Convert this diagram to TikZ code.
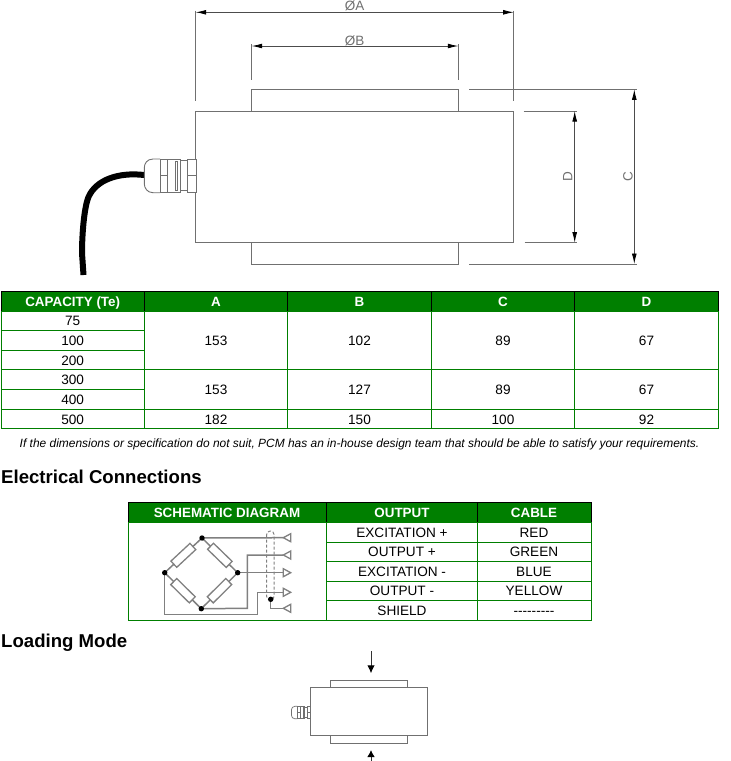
\documentclass[tikz,border=0pt]{standalone}
\usepackage{fontspec}
\setmainfont{Liberation Sans}
\usetikzlibrary{arrows.meta}
\definecolor{pcmgreen}{HTML}{007F00}
\definecolor{drawgray}{HTML}{707070}
\definecolor{wiregray}{HTML}{808080}
\tikzset{
  part/.style={draw=drawgray,line width=0.9pt},
  extline/.style={draw=drawgray,line width=0.9pt},
  dimline/.style={draw=black!70,line width=0.8pt,{Latex[length=10.5pt,width=4.8pt,black]}-{Latex[length=10.5pt,width=4.8pt,black]}},
  dimtext/.style={text=drawgray,font=\fontsize{13.5}{14}\selectfont,inner sep=0pt},
  head/.style={text=white,font=\bfseries\fontsize{13.4}{14}\selectfont,inner sep=0pt,text height=9.6pt,text depth=0pt},
  cell/.style={text=black,font=\fontsize{13.6}{14}\selectfont,inner sep=0pt,text height=9.7pt,text depth=0pt},
  headfill/.style={fill=pcmgreen,draw=black,line width=1pt},
  grid/.style={draw=pcmgreen,line width=1pt},
  title/.style={anchor=west,font=\bfseries\fontsize{18.6}{20}\selectfont,inner sep=0pt,text height=13.3pt,text depth=0pt},
  note/.style={font=\itshape\fontsize{11.95}{13}\selectfont,inner sep=0pt},
  wire/.style={draw=wiregray,line width=1.5pt},
  res/.style={draw=wiregray,fill=white,line width=1.3pt,rectangle,minimum width=26pt,minimum height=8.5pt,inner sep=0pt},
  pin/.style={circle,fill=black,minimum size=5.4pt,inner sep=0pt},
  termbox/.style={draw=wiregray,fill=white,line width=1.3pt},
  gland/.pic={
    \draw[pic actions] (-36,-16.7) -- (-43,-16.7) .. controls (-49,-16.7) and (-51.7,-12) .. (-51.7,-8) -- (-51.7,8) .. controls (-51.7,12) and (-49,17) .. (-43,17) -- (-36,17);
    \draw[pic actions] (-36,-16.7) rectangle (-28.3,17);
    \draw[pic actions] (-36,0) -- (-28.3,0);
    \draw[pic actions] (-28.3,-16.7) rectangle (-16,17);
    \draw[pic actions] (-21,-14) rectangle (-18.3,15);
    \draw[pic actions] (-16,-15) rectangle (-8.3,14.3);
    \draw[pic actions] (-8.3,-16.7) rectangle (0,17);
    \draw[pic actions] (-8.3,0) -- (0,0);
  }
}
\begin{document}
\begin{tikzpicture}[x=1pt,y=-1pt]
\useasboundingbox (0,0) rectangle (731,761);
% ---------- main drawing ----------
\draw[black,line width=6pt] (144,175) .. controls (118,172) and (96,180) .. (88.5,197) .. controls (84,208) and (82,235) .. (82,253) -- (83.5,275);
\draw[part] (195.7,111) rectangle (513.7,242.7);
\draw[part] (251.7,111) -- (251.7,89.3) -- (458.3,89.3) -- (458.3,111);
\draw[part] (251.7,242.7) -- (251.7,264) -- (458.3,264) -- (458.3,242.7);
\pic[part,fill=white] at (196,175.7) {gland};
% extension lines
\coordinate (aL) at (195.7,12.3); \coordinate (aR) at (513.7,12.3);
\coordinate (bL) at (251.7,46); \coordinate (bR) at (458.3,46);
\coordinate (dT) at (574.7,111); \coordinate (dB) at (574.7,242.7);
\coordinate (cT) at (634.3,89.3); \coordinate (cB) at (634.3,264);
\draw[extline] (195.7,10.5) -- (195.7,101);
\draw[extline] (513.7,10.5) -- (513.7,101);
\draw[extline] (251.7,44) -- (251.7,80);
\draw[extline] (458.3,44) -- (458.3,80);
\draw[extline] (469,89.3) -- (636.7,89.3);
\draw[extline] (469,264) -- (636.7,264);
\draw[extline] (523.7,111) -- (577,111);
\draw[extline] (524.7,242.7) -- (577,242.7);
\draw[dimline] (aL) -- (aR);
\draw[dimline] (bL) -- (bR);
\draw[dimline] (dT) -- (dB);
\draw[dimline] (cT) -- (cB);
\node[dimtext] (lblA) at (354.5,6) {ØA};
\node[dimtext] (lblB) at (354.5,40.8) {ØB};
\node[dimtext,rotate=90] (lblD) at (567.7,176.5) {D};
\node[dimtext,rotate=90] (lblC) at (628,176.5) {C};
% ---------- dimension table ----------
\draw[headfill] (1.3,291.7) rectangle (718.5,311);
\foreach \x in {144.3,287.5,431,574.7} \draw[black,line width=1pt] (\x,291.7) -- (\x,311);
\draw[grid] (1.3,311) rectangle (718.5,428.7);
\foreach \x in {144.3,287.5,431,574.7} \draw[grid] (\x,311) -- (\x,428.7);
\draw[grid] (1.3,330) -- (144.3,330);
\draw[grid] (1.3,350) -- (144.3,350);
\draw[grid] (1.3,369.5) -- (718.5,369.5);
\draw[grid] (1.3,389) -- (144.3,389);
\draw[grid] (1.3,409.5) -- (718.5,409.5);
\node[head] (hCap) at (72.7,301.3) {CAPACITY (Te)};
\node[head] (hA) at (216,301.3) {A};
\node[head] (hB) at (359.5,301.3) {B};
\node[head] (hC) at (503,301.3) {C};
\node[head] (hD) at (646.5,301.3) {D};
\node[cell] (c75) at (72.7,321) {75};
\node[cell] (c100) at (72.7,340.3) {100};
\node[cell] (c200) at (72.7,360.3) {200};
\node[cell] (c300) at (72.7,379.5) {300};
\node[cell] (c400) at (72.7,399.3) {400};
\node[cell] (c500) at (72.7,419.3) {500};
\node[cell] (a1) at (216,340.3) {153};
\node[cell] (b1) at (359.5,340.3) {102};
\node[cell] (cc1) at (503,340.3) {89};
\node[cell] (d1) at (646.5,340.3) {67};
\node[cell] (a2) at (216,389.3) {153};
\node[cell] (b2) at (359.5,389.3) {127};
\node[cell] (cc2) at (503,389.3) {89};
\node[cell] (d2) at (646.5,389.3) {67};
\node[cell] (a3) at (216,419.3) {182};
\node[cell] (b3) at (359.5,419.3) {150};
\node[cell] (cc3) at (503,419.3) {100};
\node[cell] (d3) at (646.5,419.3) {92};
\node[note] (noteline) at (359.5,444.5) {If the dimensions or specification do not suit, PCM has an in-house design team that should be able to satisfy your requirements.};
\node[title] (elec) at (1,477) {Electrical Connections};
% ---------- connection table ----------
\draw[headfill] (128.3,502.7) rectangle (591,522.3);
\foreach \x in {326.7,477} \draw[black,line width=1pt] (\x,502.7) -- (\x,522.3);
\draw[grid] (128.3,522.3) rectangle (591,620.3);
\foreach \x in {326.7,477} \draw[grid] (\x,522.3) -- (\x,620.3);
\foreach \y in {542.3,561.3,581,600} \draw[grid] (326.7,\y) -- (591,\y);
\node[head] (hSch) at (227,512.5) {SCHEMATIC DIAGRAM};
\node[head] (hOut) at (402,512.5) {OUTPUT};
\node[head] (hCab) at (534,512.5) {CABLE};
\node[cell] (o1) at (402,532.5) {EXCITATION +};
\node[cell] (o2) at (402,552) {OUTPUT +};
\node[cell] (o3) at (402,571.2) {EXCITATION -};
\node[cell] (o4) at (402,590.7) {OUTPUT -};
\node[cell] (o5) at (402,610.3) {SHIELD};
\node[cell] (k1) at (534,532.5) {RED};
\node[cell] (k2) at (534,552) {GREEN};
\node[cell] (k3) at (534,571.2) {BLUE};
\node[cell] (k4) at (534,590.7) {YELLOW};
\node[cell] (k5) at (534,610.3) {{-}{-}{-}{-}{-}{-}{-}{-}{-}};
% ---------- schematic ----------
\coordinate (T) at (202,538);
\coordinate (L) at (164.7,572.7);
\coordinate (R) at (237.7,572.7);
\coordinate (B) at (201.3,608.7);
\coordinate (t1) at (283.3,537.7);
\coordinate (t2) at (283.3,555);
\coordinate (t3) at (283.3,572.7);
\coordinate (t4) at (283.3,592.3);
\coordinate (t5) at (283.3,608.3);
\coordinate (S) at (270.7,599.3);
\draw[wire] (T) -- (t1);
\draw[wire] (B) -- (247.3,608.3) -- (247.3,555) -- (t2);
\draw[wire] (R) -- (t3);
\draw[wire] (L) -- (164.7,614.3) -- (257.3,614.3) -- (257.3,592.3) -- (t4);
\draw[wire] (S) -- (270.7,608.3) -- (t5);
\draw[wire] (T) -- node[res,sloped] (r1) {} (L);
\draw[wire] (T) -- node[res,sloped] (r2) {} (R);
\draw[wire] (L) -- node[res,sloped] (r3) {} (B);
\draw[wire] (R) -- node[res,sloped] (r4) {} (B);
\draw[draw=wiregray,line width=1pt,dash pattern=on 3pt off 2pt,rounded corners=3.5pt] (266.7,531) rectangle (274,600);
\foreach \p in {T,L,R,B,S} \node[pin] at (\p) {};
\draw[termbox] (t1) -- (290.7,533.7) -- (290.7,541.7) -- cycle;
\draw[termbox] (t2) -- (290.7,551) -- (290.7,559) -- cycle;
\draw[termbox] (290.7,572.7) -- (283.3,568.7) -- (283.3,576.7) -- cycle;
\draw[termbox] (290.7,592.3) -- (283.3,588.3) -- (283.3,596.3) -- cycle;
\draw[termbox] (t5) -- (290.7,604.3) -- (290.7,612.3) -- cycle;
\node[title] (load) at (1,641) {Loading Mode};
% ---------- loading mode ----------
\draw[part] (310.7,687.7) rectangle (427.3,735.7);
\draw[part] (330.7,687.7) -- (330.7,680) -- (407.3,680) -- (407.3,687.7);
\draw[part] (330.7,735.7) -- (330.7,743.3) -- (407.3,743.3) -- (407.3,735.7);
\pic[part,line width=0.7pt,scale=0.37] at (310.7,712.5) {gland};
\coordinate (pTop) at (371,651); \coordinate (pTopEnd) at (371,673.3);
\coordinate (pBot) at (371,761); \coordinate (pBotEnd) at (371,750);
\draw[black!80,line width=1pt,-{Latex[length=8pt,width=7.5pt,black]}] (pTop) -- (pTopEnd);
\draw[black!80,line width=1pt,-{Latex[length=7pt,width=7.5pt,black]}] (pBot) -- (pBotEnd);
\end{tikzpicture}
\end{document}
